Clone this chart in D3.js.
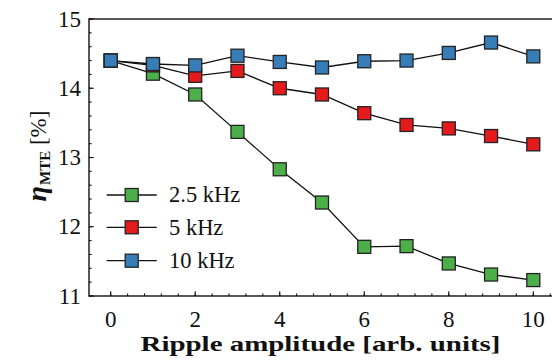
<!DOCTYPE html>
<html>
<head>
<meta charset="utf-8">
<script src="https://cdn.jsdelivr.net/npm/d3@7"></script>
<style>
  html, body { margin: 0; padding: 0; background: #fff; overflow: hidden; }
</style>
</head>
<body>
<svg id="chart" width="552" height="361"></svg>
<script>
const amplitudes = [0, 1, 2, 3, 4, 5, 6, 7, 8, 9, 10];
const eta2_5kHz = [14.40, 14.21, 13.91, 13.37, 12.83, 12.35, 11.71, 11.72, 11.47, 11.31, 11.23];
const eta5kHz   = [14.40, 14.33, 14.18, 14.25, 14.00, 13.91, 13.64, 13.47, 13.42, 13.31, 13.19];
const eta10kHz  = [14.40, 14.35, 14.33, 14.47, 14.38, 14.30, 14.39, 14.40, 14.51, 14.66, 14.46];
const seriesNames = ['2.5 kHz', '5 kHz', '10 kHz'];
const xTickLabels = [0, 2, 4, 6, 8, 10];
const yTickLabels = [11, 12, 13, 14, 15];

const series = [
  {name: seriesNames[0], values: eta2_5kHz, color: '#4daf4a'},
  {name: seriesNames[1], values: eta5kHz, color: '#e41a1c'},
  {name: seriesNames[2], values: eta10kHz, color: '#377eb8'}
];

const FONT = "'Liberation Serif', 'DejaVu Serif', serif";
const svg = d3.select('#chart');

// plot frame (right side runs off the picture, as in the original)
const frame = {left: 89, top: 19, bottom: 296, right: 560};

const x = d3.scaleLinear().domain([0, 10]).range([110.7, 533.3]);
const y = d3.scaleLinear().domain([11, 15]).range([frame.bottom, frame.top]);

// ticks, pointing inward
const xMinor = d3.range(0, 10.5, 0.4);
const yMinor = d3.range(11, 15.01, 0.2);

const ticks = svg.append('g').attr('stroke', '#111').attr('stroke-width', 1.1);
ticks.selectAll('.xminor').data(xMinor).join('line')
    .attr('x1', d => x(d)).attr('x2', d => x(d))
    .attr('y1', frame.bottom).attr('y2', frame.bottom - 2.6);
ticks.selectAll('.xmajor').data(xTickLabels).join('line')
    .attr('x1', d => x(d)).attr('x2', d => x(d))
    .attr('y1', frame.bottom).attr('y2', frame.bottom - 4.8);
ticks.selectAll('.yminor').data(yMinor).join('line')
    .attr('y1', d => y(d)).attr('y2', d => y(d))
    .attr('x1', frame.left).attr('x2', frame.left + 2.6);
ticks.selectAll('.ymajor').data(yTickLabels).join('line')
    .attr('y1', d => y(d)).attr('y2', d => y(d))
    .attr('x1', frame.left).attr('x2', frame.left + 4.8);

svg.append('rect')
    .attr('x', frame.left).attr('y', frame.top)
    .attr('width', frame.right - frame.left).attr('height', frame.bottom - frame.top)
    .attr('fill', 'none').attr('stroke', '#111').attr('stroke-width', 1.4);

// tick labels
svg.append('g').selectAll('text').data(xTickLabels).join('text')
    .attr('x', d => x(d)).attr('y', frame.bottom + 31)
    .attr('text-anchor', 'middle').attr('font-size', 23)
    .attr('font-family', FONT).attr('fill', '#111')
    .text(d => d);

svg.append('g').selectAll('text').data(yTickLabels).join('text')
    .attr('x', 81).attr('y', d => y(d)).attr('dy', '0.33em')
    .attr('text-anchor', 'end').attr('font-size', 23)
    .attr('font-family', FONT).attr('fill', '#111')
    .text(d => d);

// axis titles
svg.append('text')
    .attr('x', 320.5).attr('y', 351)
    .attr('text-anchor', 'middle').attr('font-size', 21.5).attr('font-weight', 'bold')
    .attr('font-family', FONT).attr('fill', '#111')
    .attr('textLength', 360).attr('lengthAdjust', 'spacingAndGlyphs')
    .text('Ripple amplitude [arb. units]');

const yTitle = svg.append('text')
    .attr('transform', 'translate(46,156) rotate(-90)')
    .attr('text-anchor', 'middle').attr('font-weight', 'bold').attr('font-size', 28)
    .attr('font-family', FONT).attr('fill', '#111');
yTitle.append('tspan').attr('font-style', 'italic').text('η');
yTitle.append('tspan').attr('font-size', 15).attr('dy', 4).attr('dx', 1).text('MTE');
yTitle.append('tspan').attr('dy', -4).attr('font-size', 23).attr('font-weight', 'normal').text(' [%]');

// series
const line = d3.line().x((d, i) => x(amplitudes[i])).y(d => y(d));
const ms = 13;

series.forEach(s => {
  const g = svg.append('g');
  g.append('path').datum(s.values)
      .attr('d', line).attr('fill', 'none')
      .attr('stroke', '#111').attr('stroke-width', 1.3);
  g.selectAll('rect').data(s.values).join('rect')
      .attr('x', (d, i) => x(amplitudes[i]) - ms / 2)
      .attr('y', d => y(d) - ms / 2)
      .attr('width', ms).attr('height', ms)
      .attr('fill', s.color).attr('stroke', '#222').attr('stroke-width', 1.3);
});

// legend
const legendRows = [195, 227.3, 260.7];
const legend = svg.append('g');
series.forEach((s, i) => {
  const ly = legendRows[i];
  legend.append('line')
      .attr('x1', 106.7).attr('x2', 156.7).attr('y1', ly).attr('y2', ly)
      .attr('stroke', '#111').attr('stroke-width', 1.3);
  legend.append('rect')
      .attr('x', 131.7 - ms / 2).attr('y', ly - ms / 2)
      .attr('width', ms).attr('height', ms)
      .attr('fill', s.color).attr('stroke', '#222').attr('stroke-width', 1.3);
  legend.append('text')
      .attr('x', 169).attr('y', ly).attr('dy', '0.33em')
      .attr('font-size', 22.5)
      .attr('font-family', FONT).attr('fill', '#111')
      .text(s.name);
});
</script>
</body>
</html>
